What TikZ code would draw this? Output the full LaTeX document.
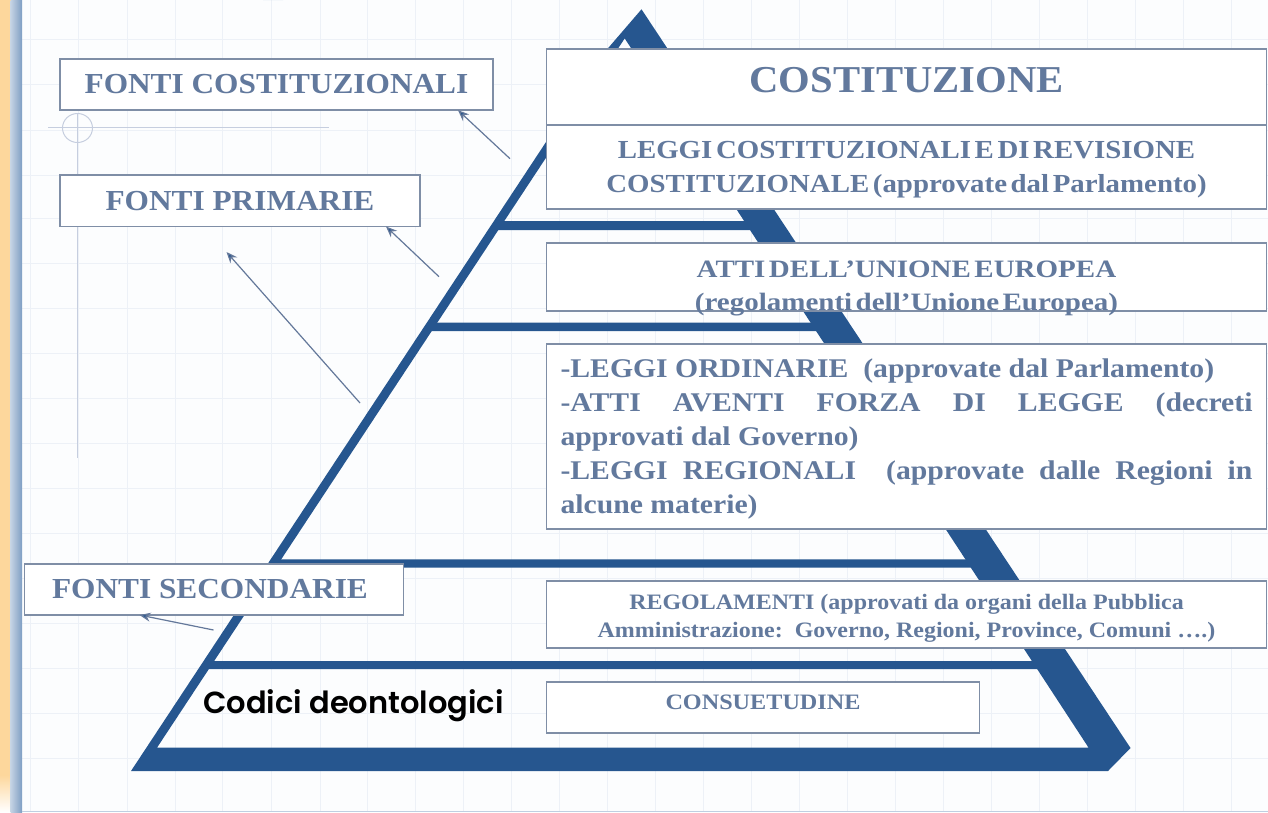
\documentclass[tikz,border=0pt]{standalone}
\usepackage{fontspec}
\setmainfont{Liberation Serif}
\newfontfamily\gothicfont[UprightFont=* SemiBold]{Poppins}
\usetikzlibrary{arrows.meta}
\definecolor{pyr}{HTML}{26568F}
\definecolor{boxtext}{HTML}{62799D}
\definecolor{boxline}{HTML}{7F8EA6}
\definecolor{gridline}{HTML}{EDF1F7}
\definecolor{paper}{HTML}{FCFDFE}
\definecolor{orangeband}{HTML}{FDD79C}
\definecolor{blueband}{HTML}{7F9EC3}
\definecolor{guide}{HTML}{C6CEDF}
\definecolor{arrowline}{HTML}{64789A}
\newcommand{\fs}[2]{\fontsize{#1}{#1}\selectfont\addfontfeature{FakeStretch=#2}}
\newcommand{\tightsp}{\spaceskip=.14em\relax}
\tikzset{
  x=1pt,y=-1pt,
  lbl/.style={draw=boxline,line width=1.6pt,fill=white,font=\bfseries,text=boxtext,inner sep=0pt,outer sep=0pt,align=center,anchor=north west},
  pyrpart/.style={fill=pyr,draw=none},
  callout/.style={draw=arrowline,line width=1.2pt,-{Stealth[length=11pt,width=9pt,fill=pyr]}},
  guideline/.style={draw=guide,line width=1pt}
}
\begin{document}
\begin{tikzpicture}
\useasboundingbox (0,0) rectangle (1268,812);
\fill[paper] (0,0) rectangle (1268,812);
\foreach \gx in {30,78,127,175,222,271,320,367,415,463,511,559,607,655,703,751,799,847,895,943,991,1039,1087,1135,1183,1231}
  \draw[gridline,line width=.8pt] (\gx,0) -- (\gx,812);
\foreach \gy in {39,84,130,175,218,263,308,353,398,443,488,533,578,623,668,713,758}
  \draw[gridline,line width=.8pt] (22,\gy) -- (1268,\gy);
% side and bottom bands
\fill[orangeband] (0,0) rectangle (10.5,775);
\shade[top color=orangeband,bottom color=white] (0,775) rectangle (10.5,812);
\shade[left color=blueband!45!white,right color=blueband] (10.5,0) rectangle (22,812);
\draw[blueband!50,line width=1pt] (22,811) -- (1268,811);
\fill[blueband!40] (263,0) arc[start angle=180,end angle=360,x radius=10,y radius=1.5] -- cycle;
% guide marks
\draw[guideline] (48,127.5) -- (329,127.5);
\draw[guideline] (77.5,113) -- (77.5,458);
\draw[guideline] (77.5,128) ellipse[x radius=15,y radius=14.5];
% pyramid
\fill[pyr,even odd rule]
  (131,771) -- (607.6,48.7) -- (641.5,9.3) -- (1130.5,748) -- (1108,771) -- cycle
  (157,747.7) -- (1088.6,747.7) -- (624.7,38.4) -- cycle;
\fill[pyrpart] (495,221) -- (750,221) -- (756,230) -- (490,230) -- cycle;
\fill[pyrpart] (430,322.7) -- (815,322.7) -- (821,331) -- (425,331) -- cycle;
\fill[pyrpart] (275,559.3) -- (970,559.3) -- (975,567.7) -- (270,567.7) -- cycle;
\fill[pyrpart] (210,661) -- (1034,661) -- (1040,669) -- (205,669) -- cycle;
% left labels
\node[lbl,minimum width=433pt,minimum height=51.5pt,font=\bfseries\fs{29}{1.08}] (fcost) at (60,58.7) {FONTI COSTITUZIONALI};
\node[lbl,minimum width=360pt,minimum height=51.5pt,font=\bfseries\fs{29}{1.08}] (fprim) at (60,175) {FONTI PRIMARIE};
\node[lbl,minimum width=379pt,minimum height=51pt,font=\bfseries\fs{29}{1.08}] (fsec) at (24.5,564) {FONTI SECONDARIE\hspace*{8pt}};
% right boxes
\node[lbl,minimum width=720pt,minimum height=76.3pt,font=\bfseries\fs{38}{1.07}] (cost) at (546.5,48.7) {COSTITUZIONE\rule[-14pt]{0pt}{14pt}};
\node[lbl,minimum width=720pt,minimum height=84pt,font=\bfseries\fs{26}{1.11}\tightsp] (lcost) at (546.5,125) {\rule{0pt}{23pt}LEGGI COSTITUZIONALI E DI REVISIONE\\[8pt]COSTITUZIONALE (approvate dal Parlamento)};
\node[lbl,minimum width=720pt,minimum height=68pt,font=\bfseries\fs{25}{1.16}\tightsp] (ue) at (546.5,243) {\rule{0pt}{34pt}ATTI DELL’UNIONE EUROPEA\\[8pt]\raisebox{0pt}[\height][0pt]{(regolamenti dell’Unione Europea)}};
\node[lbl,minimum width=720pt,minimum height=185pt,font=\bfseries\fs{27}{1.10},align=left] (leggi) at (546.5,344) {%
  \rule{0pt}{24pt}-LEGGI ORDINARIE\ \ (approvate dal Parlamento)\\[7pt]
  \makebox[692pt][s]{-ATTI AVENTI FORZA DI LEGGE (decreti}\\[7pt]
  approvati dal Governo)\\[7pt]
  \makebox[692pt][s]{-LEGGI REGIONALI\ \ (approvate dalle Regioni in}\\[7pt]
  alcune materie)};
\node[lbl,minimum width=720pt,minimum height=67pt,font=\bfseries\fs{22}{1.09}] (reg) at (546.5,581) {\rule{0pt}{22pt}REGOLAMENTI (approvati da organi della Pubblica\\[6pt]Amministrazione:\ \ Governo, Regioni, Province, Comuni ….)};
\node[lbl,minimum width=433pt,minimum height=51pt,font=\bfseries\fs{22}{1.1}] (cons) at (546.5,682) {CONSUETUDINE\rule[-10pt]{0pt}{10pt}};
% free text
\node[anchor=base west,inner sep=0pt,text=black,font=\gothicfont\fontsize{30.5}{30.5}\selectfont] (cod) at (203,713) {Codici deontologici};
% callouts
\coordinate (a1) at (510,158.7);
\coordinate (a2) at (439,276.7);
\coordinate (a3) at (360,403);
\coordinate (a3t) at (226.5,252);
\coordinate (a4) at (213.5,630);
\draw[callout] (a1) -- ([xshift=-35pt]fcost.south east);
\draw[callout] (a2) -- ([xshift=-34pt]fprim.south east);
\draw[callout] (a3) -- (a3t);
\draw[callout] (a4) -- ([xshift=115pt]fsec.south west);
\end{tikzpicture}
\end{document}
